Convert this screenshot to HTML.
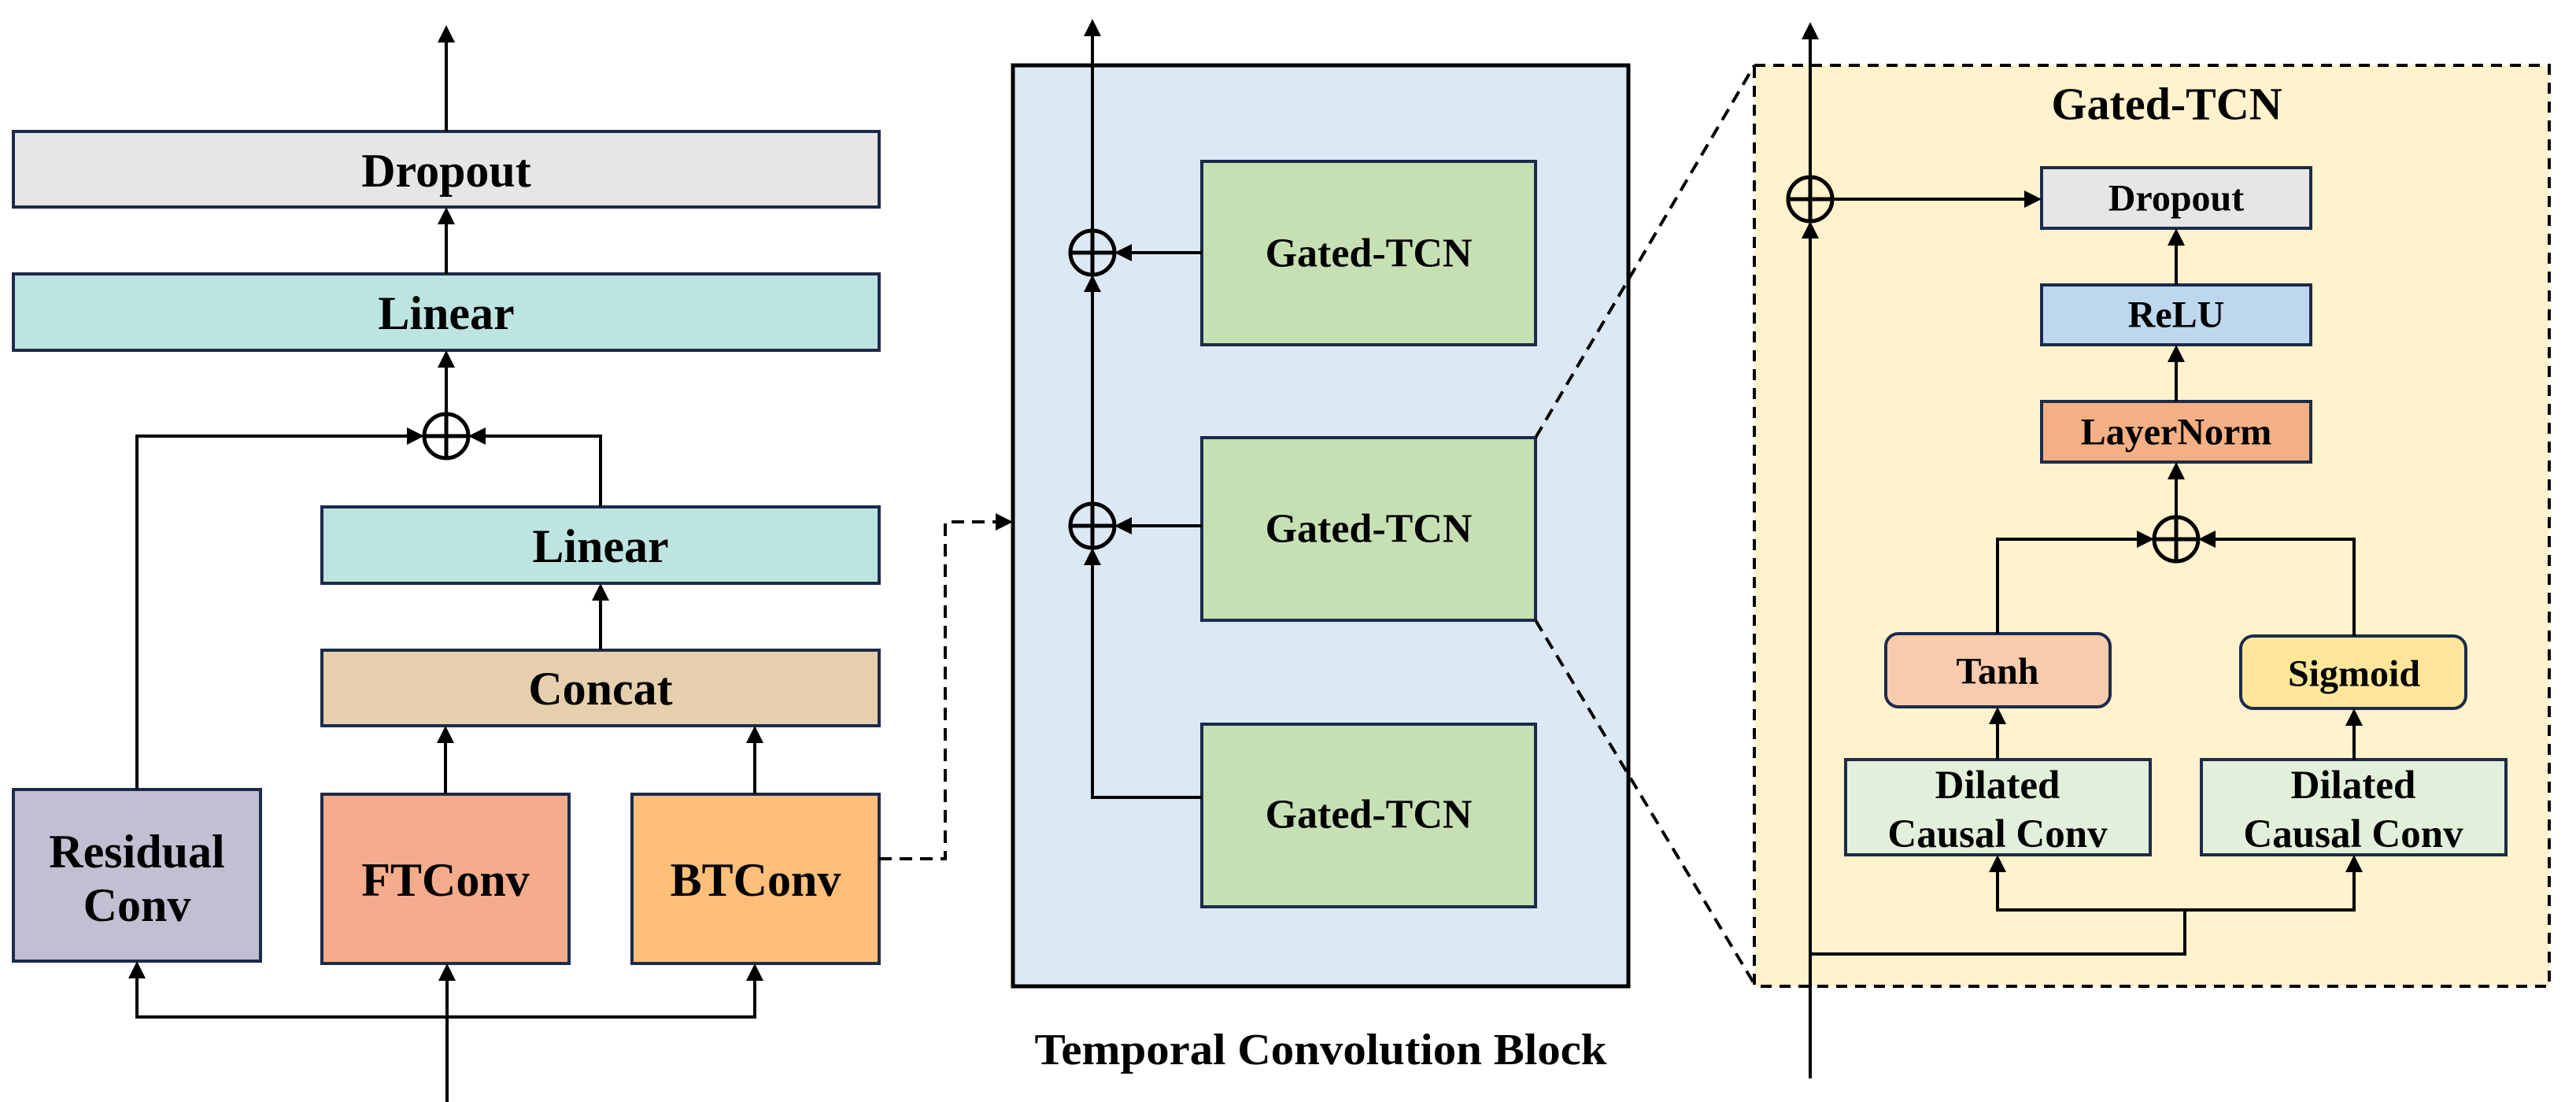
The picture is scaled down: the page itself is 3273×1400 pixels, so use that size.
<!DOCTYPE html>
<html><head><meta charset="utf-8"><style>
html,body{margin:0;padding:0;background:#fff}
svg{display:block}
text{font-family:"Liberation Serif",serif;font-weight:bold;fill:#000;text-anchor:middle;dominant-baseline:central}
</style></head><body>
<svg width="3273" height="1400" viewBox="0 0 3273 1400" xmlns="http://www.w3.org/2000/svg">
<defs>
<marker id="a" markerWidth="10" markerHeight="10" refX="9" refY="5" orient="auto" markerUnits="userSpaceOnUse" viewBox="0 0 10 10">
</marker>
</defs>
<g stroke="#1c2b4a" stroke-width="4">
<!-- left column -->
<rect x="17" y="167" width="1100" height="96" fill="#e6e6e6"/>
<rect x="17" y="348" width="1100" height="97" fill="#bde4e0"/>
<rect x="409" y="644" width="708" height="97" fill="#bde4e0"/>
<rect x="409" y="826" width="708" height="96" fill="#e5cfad"/>
<rect x="17" y="1003" width="314" height="218" fill="#c1bfd1"/>
<rect x="409" y="1009" width="314" height="215" fill="#f5ac8c"/>
<rect x="803" y="1009" width="314" height="215" fill="#fdbf7a"/>
</g>
<!-- middle -->
<rect x="1287" y="83" width="782" height="1170" fill="#dce8f3" stroke="#000" stroke-width="5"/>
<g stroke="#1c2b4a" stroke-width="4" fill="#c6e0b4">
<rect x="1527" y="205" width="424" height="233"/>
<rect x="1527" y="556" width="424" height="232"/>
<rect x="1527" y="920" width="424" height="232"/>
</g>
<!-- right -->
<rect x="2229" y="83" width="1010" height="1170" fill="#fff2cc" stroke="#000" stroke-width="4" stroke-dasharray="14 10"/>
<g stroke="#1c2b4a" stroke-width="4">
<rect x="2594" y="213" width="342" height="77" fill="#e6e6e6"/>
<rect x="2594" y="362" width="342" height="76" fill="#bdd7ee"/>
<rect x="2594" y="510" width="342" height="77" fill="#f2b084"/>
<rect x="2396" y="805" width="285" height="93" rx="16" fill="#f8cbad"/>
<rect x="2847" y="808" width="286" height="92" rx="16" fill="#ffe699"/>
<rect x="2345" y="965" width="387" height="121" fill="#e2efda"/>
<rect x="2797" y="965" width="387" height="121" fill="#e2efda"/>
</g>

<!-- connectors -->
<g stroke="#000" stroke-width="4" fill="none">
<!-- left -->
<line x1="567" y1="167" x2="567" y2="50"/>
<line x1="567" y1="348" x2="567" y2="275"/>
<line x1="567" y1="526" x2="567" y2="457"/>
<polyline points="174,1003 174,554 525,554"/>
<polyline points="763,644 763,554 609,554"/>
<line x1="763" y1="826" x2="763" y2="753"/>
<line x1="566" y1="1009" x2="566" y2="934"/>
<line x1="959" y1="1009" x2="959" y2="934"/>
<polyline points="174,1233 174,1292 959,1292 959,1236"/>
<line x1="568" y1="1400" x2="568" y2="1236"/>
<circle cx="567" cy="554" r="28" stroke-width="5"/>
<line x1="541" y1="554" x2="593" y2="554" stroke-width="5"/>
<line x1="567" y1="528" x2="567" y2="580" stroke-width="5"/>
<!-- middle -->
<line x1="1388" y1="293" x2="1388" y2="43"/>
<line x1="1388" y1="640" x2="1388" y2="361"/>
<polyline points="1527,1013 1388,1013 1388,710"/>
<line x1="1527" y1="321" x2="1428" y2="321"/>
<line x1="1527" y1="668" x2="1428" y2="668"/>
<circle cx="1388" cy="321" r="28" stroke-width="5"/>
<line x1="1362" y1="321" x2="1414" y2="321" stroke-width="5"/>
<line x1="1388" y1="295" x2="1388" y2="347" stroke-width="5"/>
<circle cx="1388" cy="668" r="28" stroke-width="5"/>
<line x1="1362" y1="668" x2="1414" y2="668" stroke-width="5"/>
<line x1="1388" y1="642" x2="1388" y2="694" stroke-width="5"/>
<!-- dashed -->
<g stroke-dasharray="16 10">
<polyline points="1117,1091 1201,1091 1201,663 1268,663"/>
<line x1="1951" y1="556" x2="2229" y2="83"/>
<line x1="1951" y1="788" x2="2229" y2="1250"/>
</g>
<!-- right -->
<line x1="2300" y1="1370" x2="2300" y2="293"/>
<line x1="2300" y1="225" x2="2300" y2="48"/>
<line x1="2328" y1="253" x2="2578" y2="253"/>
<line x1="2765" y1="362" x2="2765" y2="306"/>
<line x1="2765" y1="510" x2="2765" y2="454"/>
<line x1="2765" y1="657" x2="2765" y2="603"/>
<polyline points="2538,805 2538,685 2719,685"/>
<polyline points="2991,808 2991,685 2811,685"/>
<line x1="2538" y1="965" x2="2538" y2="914"/>
<line x1="2991" y1="965" x2="2991" y2="916"/>
<polyline points="2300,1212 2776,1212 2776,1156 2538,1156 2538,1102"/>
<polyline points="2776,1156 2991,1156 2991,1102"/>
<circle cx="2300" cy="253" r="28" stroke-width="5"/>
<line x1="2274" y1="253" x2="2326" y2="253" stroke-width="5"/>
<line x1="2300" y1="227" x2="2300" y2="279" stroke-width="5"/>
<circle cx="2765" cy="685" r="28" stroke-width="5"/>
<line x1="2739" y1="685" x2="2791" y2="685" stroke-width="5"/>
<line x1="2765" y1="659" x2="2765" y2="711" stroke-width="5"/>
</g>
<!-- arrowheads -->
<g fill="#000">
<!-- up arrows: tip x,y -->
<polygon points="567,32 556,54 578,54"/>
<polygon points="567,263 556,285 578,285"/>
<polygon points="567,445 556,467 578,467"/>
<polygon points="763,741 752,763 774,763"/>
<polygon points="566,922 555,944 577,944"/>
<polygon points="959,922 948,944 970,944"/>
<polygon points="174,1221 163,1243 185,1243"/>
<polygon points="568,1224 557,1246 579,1246"/>
<polygon points="959,1224 948,1246 970,1246"/>
<polygon points="539,554 517,543 517,565"/>
<polygon points="595,554 617,543 617,565"/>
<polygon points="1388,24 1377,46 1399,46"/>
<polygon points="1388,349 1377,371 1399,371"/>
<polygon points="1388,696 1377,718 1399,718"/>
<polygon points="1416,321 1438,310 1438,332"/>
<polygon points="1416,668 1438,657 1438,679"/>
<polygon points="1287,663 1265,652 1265,674"/>
<polygon points="2300,28 2289,50 2311,50"/>
<polygon points="2300,281 2289,303 2311,303"/>
<polygon points="2594,253 2572,242 2572,264"/>
<polygon points="2765,290 2754,312 2776,312"/>
<polygon points="2765,438 2754,460 2776,460"/>
<polygon points="2765,587 2754,609 2776,609"/>
<polygon points="2737,685 2715,674 2715,696"/>
<polygon points="2793,685 2815,674 2815,696"/>
<polygon points="2538,898 2527,920 2549,920"/>
<polygon points="2991,900 2980,922 3002,922"/>
<polygon points="2538,1086 2527,1108 2549,1108"/>
<polygon points="2991,1086 2980,1108 3002,1108"/>
</g>
<!-- labels -->
<g font-size="60">
<text x="567" y="217">Dropout</text>
<text x="567" y="398">Linear</text>
<text x="763" y="694">Linear</text>
<text x="763" y="875">Concat</text>
<text x="174" y="1082">Residual</text>
<text x="174" y="1150">Conv</text>
<text x="566" y="1118">FTConv</text>
<text x="960" y="1118">BTConv</text>
</g>
<g font-size="52">
<text x="1739" y="322">Gated-TCN</text>
<text x="1739" y="672">Gated-TCN</text>
<text x="1739" y="1035">Gated-TCN</text>
</g>
<text x="1678" y="1334" font-size="56" textLength="727" lengthAdjust="spacingAndGlyphs">Temporal Convolution Block</text>
<text x="2753" y="132" font-size="58">Gated-TCN</text>
<g font-size="48">
<text x="2765" y="252">Dropout</text>
<text x="2765" y="400">ReLU</text>
<text x="2765" y="549">LayerNorm</text>
<text x="2538" y="853">Tanh</text>
<text x="2991" y="856">Sigmoid</text>
</g>
<g font-size="51">
<text x="2538" y="998">Dilated</text>
<text x="2538" y="1060">Causal Conv</text>
<text x="2990" y="998">Dilated</text>
<text x="2990" y="1060">Causal Conv</text>
</g>
</svg>
</body></html>
